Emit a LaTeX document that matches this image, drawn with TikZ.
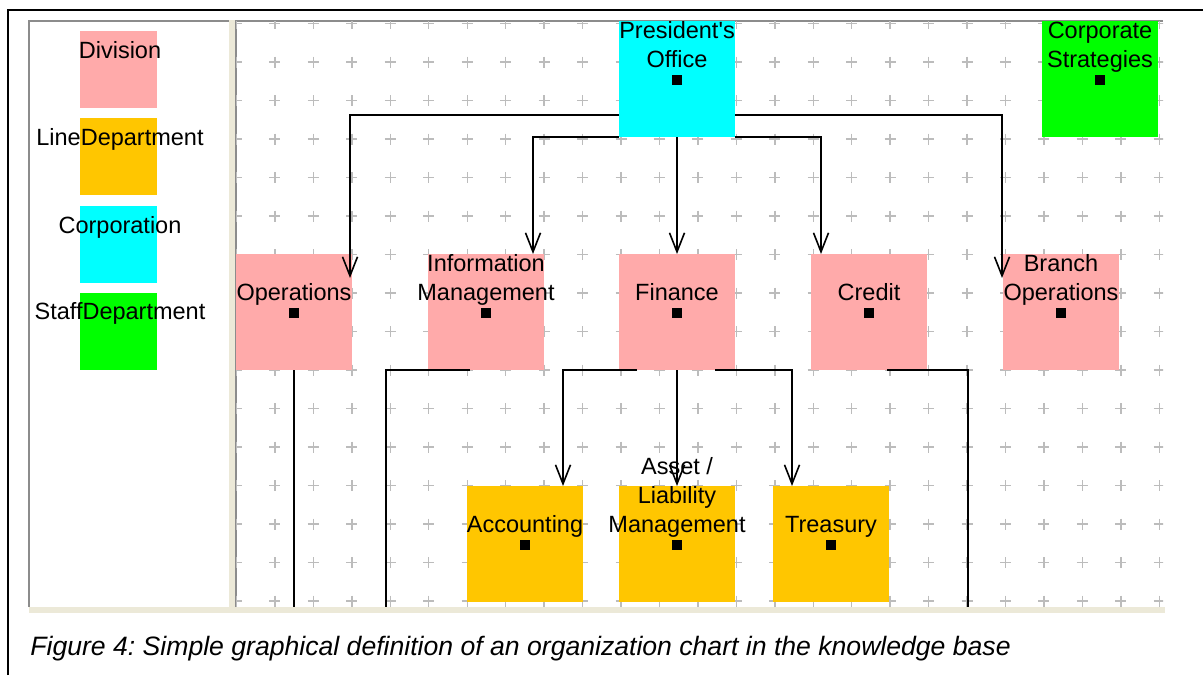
\documentclass[tikz,border=0pt]{standalone}
\usepackage{fontspec}
\setmainfont{Liberation Sans}
\usetikzlibrary{arrows.meta,calc}
\frenchspacing
\definecolor{divpink}{RGB}{255,170,170}
\definecolor{lineorange}{RGB}{255,198,0}
\definecolor{corpcyan}{RGB}{0,255,255}
\definecolor{staffgreen}{RGB}{0,255,0}
\definecolor{gridgray}{RGB}{188,188,188}
\definecolor{xpbeige}{RGB}{236,233,216}
\definecolor{panelgray}{RGB}{140,140,140}
\tikzset{
  box/.style={draw=none, minimum width=58pt, minimum height=58pt, inner sep=0pt, outer sep=0pt, anchor=north west},
  legbox/.style={box, minimum width=38.5pt, minimum height=38.5pt},
  lbl/.style={font=\fontsize{11.75}{14}\selectfont, inner sep=0pt, anchor=base},
  captext/.style={font=\fontsize{13.3}{16}\selectfont\itshape, inner sep=0pt, anchor=base west},
  dot/.style={fill=black, minimum size=5pt, inner sep=0pt},
  wire/.style={line width=0.75pt, black},
  conn/.style={wire, -{Straight Barb[length=9.5pt,width=7.5pt,line width=0.8pt]}},
  gridcross/.style={gridgray, line width=0.7pt}
}
\begin{document}
\begin{tikzpicture}[x=0.5pt,y=-0.5pt]
\useasboundingbox (0,0) rectangle (1203,675);
\fill[white] (0,0) rectangle (1203,675);
% outer frame
\draw[line width=0.8pt] (8,675) -- (8,10) -- (1203,10);
% legend panel and canvas
\fill[white] (29,21) rectangle (229,607);
\fill[xpbeige] (229,20) rectangle (236,613);
\fill[xpbeige] (29,607) rectangle (1165,613);
\draw[panelgray, line width=0.6pt] (29,607) -- (29,21) -- (229,21);
\draw[panelgray, line width=0.6pt] (236,607) -- (236,21) -- (1163,21);
% grid crosses
\begin{scope}
\clip (236,21) rectangle (1163,607);
\foreach \i in {0,...,24}{
  \foreach \j in {0,...,15}{
    \draw[gridcross] ({236.5+38.45*\i-5.5},{23.5+38.5*\j}) -- ++(11,0);
    \draw[gridcross] ({236.5+38.45*\i},{23.5+38.5*\j-5.5}) -- ++(0,11);
  }
}
\end{scope}
% legend
\node[legbox, fill=divpink] (legDiv) at (80,31) {};
\node[legbox, fill=lineorange] (legLine) at (80,118) {};
\node[legbox, fill=corpcyan] (legCorp) at (80,206) {};
\node[legbox, fill=staffgreen] (legStaff) at (80,293) {};
\node[lbl] (legDivT) at (120,58) {Division};
\node[lbl] (legLineT) at (120,145) {LineDepartment};
\node[lbl] (legCorpT) at (120,233) {Corporation};
\node[lbl] (legStaffT) at (120,319) {StaffDepartment};
% org boxes
\node[box, fill=corpcyan] (pres) at (619,21) {};
\node[box, fill=staffgreen] (corp) at (1042,21) {};
\node[box, fill=divpink] (ops) at (236,254) {};
\node[box, fill=divpink] (info) at (428,254) {};
\node[box, fill=divpink] (fin) at (619,254) {};
\node[box, fill=divpink] (cred) at (811,254) {};
\node[box, fill=divpink] (branch) at (1003,254) {};
\node[box, fill=lineorange] (acc) at (467,486) {};
\node[box, fill=lineorange] (asset) at (619,486) {};
\node[box, fill=lineorange] (treas) at (773,486) {};
% connectors
\draw[conn] ($(pres.south west)+(0,-22)$) -| ($(ops.north east)+(-2,24)$);
\draw[conn] (pres.south west) -| ($(info.north)+(47,0)$);
\draw[conn] (pres.south) -- (fin.north);
\draw[conn] (pres.south east) -| ($(cred.north)+(-48,0)$);
\draw[conn] ($(pres.south east)+(0,-22)$) -| ($(branch.north west)+(-1,24)$);
\draw[conn] ($(fin.south)+(-40,0)$) -| ($(acc.north)+(38,0)$);
\draw[conn] (fin.south) -- (asset.north);
\draw[conn] ($(fin.south)+(38,0)$) -| ($(treas.north)+(-39,0)$);
\coordinate (opsOut) at (294,607);
\coordinate (infoOut) at (386,607);
\coordinate (credOut) at (968,607);
\draw[wire] (ops.south) -- (opsOut);
\draw[wire] ($(info.south)+(-16,0)$) -| (infoOut);
\draw[wire] ($(cred.south)+(18,0)$) -| (credOut);
% labels
\node[lbl] (presT1) at (677,38) {President\textquotesingle s};
\node[lbl] (presT2) at (677,67) {Office};
\node[dot] (presD) at (677,80) {};
\node[lbl] (corpT1) at (1100,38) {Corporate};
\node[lbl] (corpT2) at (1100,67) {Strategies};
\node[dot] (corpD) at (1100,80) {};
\node[lbl] (opsT) at (294,300) {Operations};
\node[dot] (opsD) at (294,313) {};
\node[lbl] (infoT1) at (486,271) {Information};
\node[lbl] (infoT2) at (486,300) {Management};
\node[dot] (infoD) at (486,313) {};
\node[lbl] (finT) at (677,300) {Finance};
\node[dot] (finD) at (677,313) {};
\node[lbl] (credT) at (869,300) {Credit};
\node[dot] (credD) at (869,313) {};
\node[lbl] (branchT1) at (1061,271) {Branch};
\node[lbl] (branchT2) at (1061,300) {Operations};
\node[dot] (branchD) at (1061,313) {};
\node[lbl] (accT) at (525,532) {Accounting};
\node[dot] (accD) at (525,545) {};
\node[lbl] (assetT1) at (677,474) {Asset /};
\node[lbl] (assetT2) at (677,503) {Liability};
\node[lbl] (assetT3) at (677,532) {Management};
\node[dot] (assetD) at (677,545) {};
\node[lbl] (treasT) at (831,532) {Treasury};
\node[dot] (treasD) at (831,545) {};
% caption
\node[captext] (caption) at (30,655) {Figure 4: Simple graphical definition of an organization chart in the knowledge base};
\end{tikzpicture}
\end{document}
